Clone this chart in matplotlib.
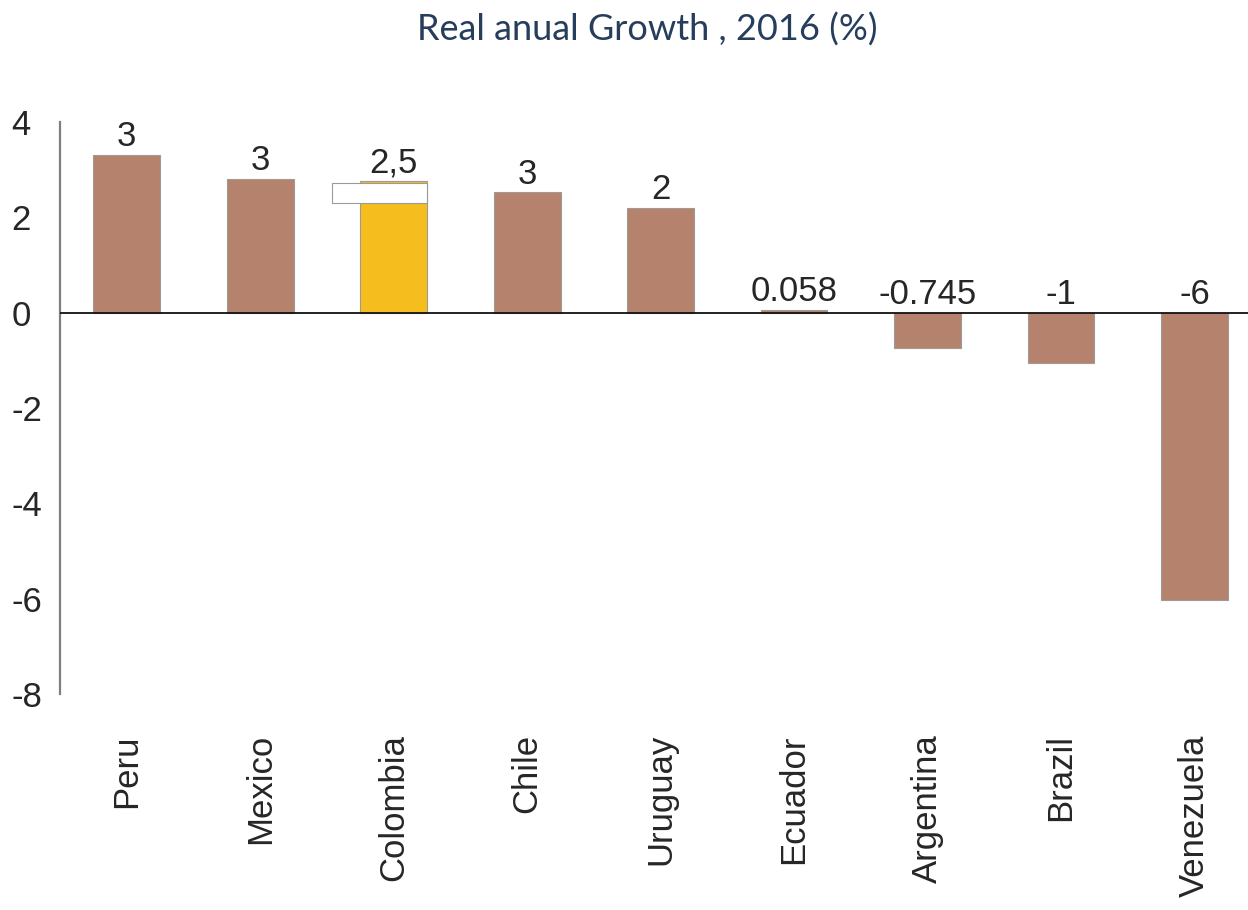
import numpy as np
import matplotlib.pyplot as plt
from matplotlib.patches import Rectangle

plt.rcParams["font.family"] = ["Liberation Sans", "DejaVu Sans"]

countries = ["Peru", "Mexico", "Colombia", "Chile", "Uruguay",
             "Ecuador", "Argentina", "Brazil", "Venezuela"]
growth = [3.31, 2.81, 2.77, 2.52, 2.20, 0.058, -0.745, -1.05, -6.02]
value_labels = ["3", "3", "2,5", "3", "2", "0.058", "-0.745", "-1", "-6"]
yticks = [4, 2, 0, -2, -4, -6, -8]

BROWN = "#b5826e"
YELLOW = "#f5be1e"
TEXT = "#262626"
colors = [YELLOW if c == "Colombia" else BROWN for c in countries]

fig = plt.figure(figsize=(12.48, 9.10), dpi=100)
ax = fig.add_axes([0.048, 0.2374, 0.952, 0.6286])

x = np.arange(len(countries))
bars = ax.bar(x, growth, width=0.5, color=colors, edgecolor="#a09a92",
              linewidth=0.8, zorder=2)

# labels sit just above the bar, or above the zero line for negatives
for xi, val, lab in zip(x, growth, value_labels):
    ypos = max(val, 0) + 0.03
    ax.text(xi, ypos, lab, ha="center", va="bottom", fontsize=25,
            color=TEXT, zorder=4)

# small white box over the top of the highlighted bar
ci = countries.index("Colombia")
top = growth[ci]
ax.add_patch(Rectangle((ci - 0.46, top - 0.46), 0.71, 0.40,
                       facecolor="white", edgecolor="#9a9a9a",
                       linewidth=0.8, zorder=3))

ax.axhline(0, color="#111111", linewidth=1.3, zorder=3)

ax.set_xlim(-0.5, 8.4)
ax.set_ylim(-8, 4)
ax.set_yticks(yticks)
ax.set_yticklabels([str(t) for t in yticks], ha="left")
ax.set_xticks(x)
ax.set_xticklabels(countries, rotation=90)

for side in ["top", "right", "bottom"]:
    ax.spines[side].set_visible(False)
ax.spines["left"].set_color("#7f7f7f")
ax.spines["left"].set_linewidth(1.6)

ax.tick_params(axis="y", length=0, pad=35, labelsize=25, labelcolor=TEXT)
ax.tick_params(axis="x", length=0, pad=29, labelsize=25, labelcolor=TEXT)

fig.text(0.519, 0.967, "Real anual Growth , 2016 (%)", ha="center", va="center",
         fontsize=26, color="#263d5c", family=["Lato", "DejaVu Sans"])

fig.savefig("out.png", dpi=100)
